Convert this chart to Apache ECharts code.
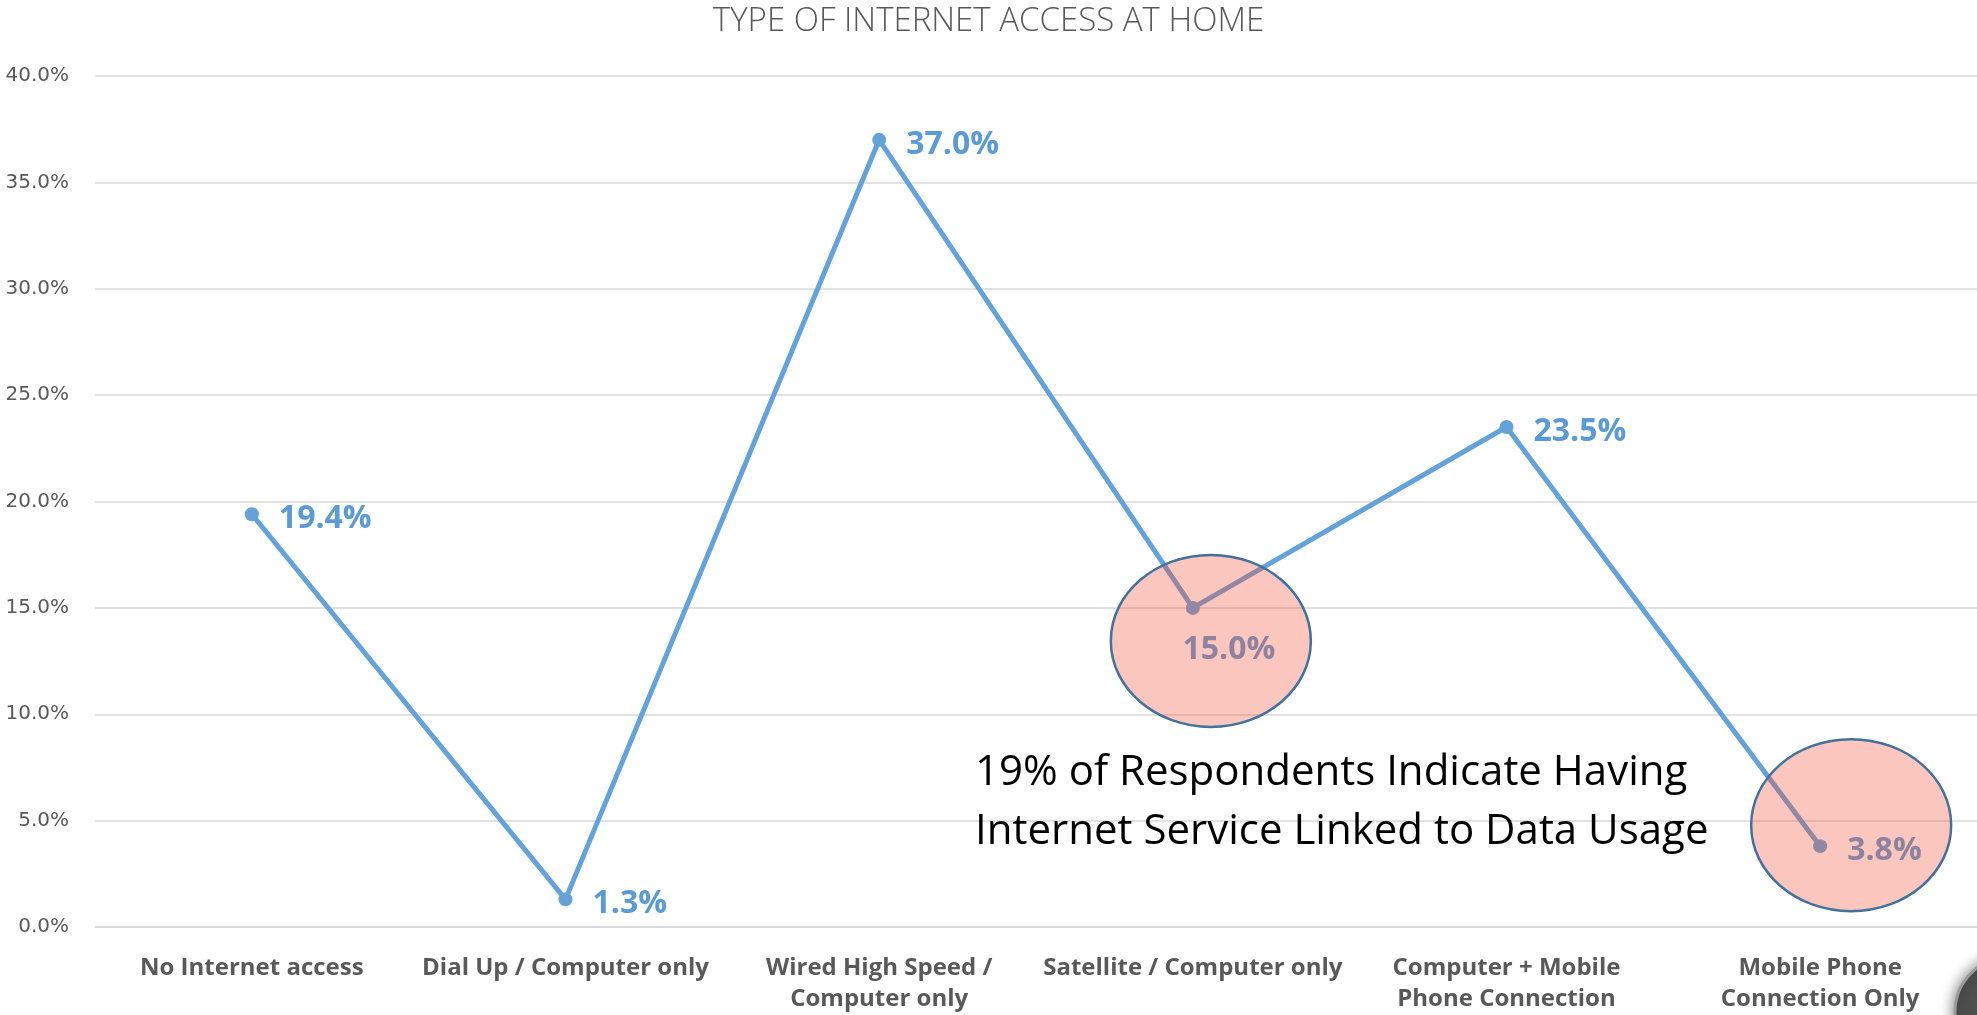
<!DOCTYPE html>
<html>
<head>
<meta charset="utf-8">
<script src="https://cdn.jsdelivr.net/npm/echarts@6/dist/echarts.min.js"></script>
<style>
html,body{margin:0;padding:0;background:#fff;}
#chart{width:1977px;height:1015px;}
</style>
</head>
<body>
<div id="chart"></div>
<script>
const categories = [
  'No Internet access',
  'Dial Up / Computer only',
  'Wired High Speed /\nComputer only',
  'Satellite / Computer only',
  'Computer + Mobile\nPhone Connection',
  'Mobile Phone\nConnection Only'
];
const values = [19.4, 1.3, 37.0, 15.0, 23.5, 3.8];
const yMin = 0, yMax = 40, yStep = 5;
const circledIndices = [3, 5];
const annotationLines = ['19% of Respondents Indicate Having', 'Internet Service Linked to Data Usage'];
const titleText = 'TYPE OF INTERNET ACCESS AT HOME';

const chart = echarts.init(document.getElementById('chart'));
const blue = '#5B9BD5';
const lineBlue = '#64A3DA';
chart.setOption({
  animation: false,
  title: {
    text: titleText, left: 'center', top: 0,
    textStyle: {fontFamily: 'Open Sans', fontWeight: 300, fontSize: 33, color: '#595959'}
  },
  grid: {left: 95, right: 0, top: 76, bottom: 88, containLabel: false},
  xAxis: {
    type: 'category', data: categories, boundaryGap: true,
    axisLine: {show: true, lineStyle: {color: '#D9D9D9', width: 1.5}},
    axisTick: {show: false},
    axisLabel: {
      interval: 0, margin: 26, fontFamily: 'Open Sans', fontWeight: 'bold',
      fontSize: 24, lineHeight: 31, color: '#595959', align: 'center'
    }
  },
  yAxis: {
    type: 'value', min: yMin, max: yMax, interval: yStep,
    axisLine: {show: false}, axisTick: {show: false},
    splitLine: {lineStyle: {color: '#D9D9D9', width: 1.5}},
    axisLabel: {
      margin: 26, fontFamily: 'DejaVu Sans', fontSize: 20, color: '#595959',
      formatter: v => v.toFixed(1) + '%'
    }
  },
  series: [{
    type: 'line',
    data: values.map((v, i) => i === 3
      ? {value: v, label: {position: 'inside', offset: [36, 42]}}
      : v),
    symbol: 'circle', symbolSize: 14,
    lineStyle: {color: lineBlue, width: 5},
    itemStyle: {color: lineBlue},
    label: {
      show: true, position: 'right', distance: 20, offset: [0, 5],
      fontFamily: 'Open Sans', fontWeight: 'bold', fontSize: 32, color: blue,
      formatter: p => p.value.toFixed(1) + '%'
    }
  }]
});

const offsets = [[18, 33], [31, -21]];
const graphics = circledIndices.map((idx, i) => {
  const p = chart.convertToPixel({seriesIndex: 0}, [idx, values[idx]]);
  return {
    type: 'ellipse', z: 100,
    shape: {cx: p[0] + offsets[i][0], cy: p[1] + offsets[i][1], rx: 100, ry: 86},
    style: {fill: 'rgba(243,82,55,0.33)', stroke: '#41719C', lineWidth: 2.5}
  };
});
graphics.push({
  type: 'text', z: 101, left: 975, top: 744,
  style: {
    text: annotationLines.join('\n'), fontFamily: 'Open Sans', fontSize: 42,
    lineHeight: 59, fill: '#000'
  }
});
graphics.push({
  type: 'circle', z: 101,
  shape: {cx: 2010, cy: 1012, r: 55},
  style: {fill: '#505050', stroke: '#9a9a9a', lineWidth: 3, shadowBlur: 14, shadowColor: 'rgba(0,0,0,0.5)'}
});
chart.setOption({graphic: graphics});
</script>
</body>
</html>
